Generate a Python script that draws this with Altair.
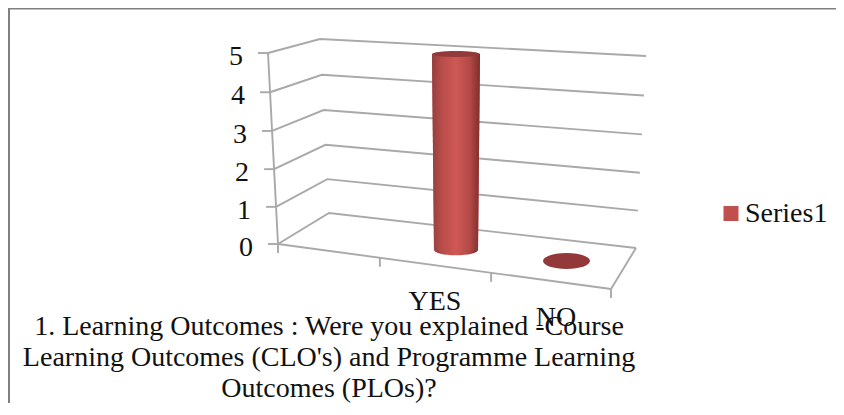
import altair as alt
import pandas as pd

# ---- chart content
categories = ["YES", "NO"]
series1 = [5, 0]
series_name = "Series1"
value_ticks = [0, 1, 2, 3, 4, 5]
title_lines = [
    "1. Learning Outcomes : Were you explained -Course",
    "Learning Outcomes (CLO's) and Programme Learning",
    "Outcomes (PLOs)?",
]

# ---- the 3-D projection of the reference (page pixels)
W, H = 828, 395
FONT = "Liberation Serif"
FS = 28
wall_left = ((278, 244), (268, 53))
wall_back = ((329, 213), (320, 39))
wall_right = ((636, 248), (646, 56))
floor_front = ((278, 244), (611, 289))
floor_ticks = [0, 0.306, 0.64, 1]
base_of = {"YES": (456, 250), "NO": (566, 261)}
UNIT = 39.2
MAXV = max(value_ticks)


def lift(edge, v):
    t = v / MAXV
    t = t / (1 + 0.035 * (1 - t))
    (x0, y0), (x1, y1) = edge
    return x0 + (x1 - x0) * t, y0 + (y1 - y0) * t


def ellipse(ratio):
    return f"M-1,0A1,{ratio} 0 1,1 1,0A1,{ratio} 0 1,1 -1,0Z"


xs = alt.Scale(domain=[8, 8 + W], range=[0, W], nice=False, zero=False)
ys = alt.Scale(domain=[8, 8 + H], range=[0, H], nice=False, zero=False)
X = alt.X("x:Q", scale=xs, axis=None)
Y = alt.Y("y:Q", scale=ys, axis=None)
GRID = "#a9a9a9"

# gridlines and frame lines
rows = []
for v in value_ticks:
    for i, e in enumerate((wall_left, wall_back, wall_right)):
        px, py = lift(e, v)
        rows.append(dict(k=f"g{v}", o=i, x=px, y=py))
    px, py = lift(wall_left, v)
    rows += [dict(k=f"t{v}", o=0, x=px - 10, y=py), dict(k=f"t{v}", o=1, x=px, y=py)]
for v in value_ticks:
    px, py = lift(wall_left, v)
    rows.append(dict(k="axis", o=v, x=px, y=py))
f0, f1 = floor_front
rows += [dict(k="front", o=0, x=f0[0], y=f0[1]), dict(k="front", o=1, x=f1[0], y=f1[1])]
rows += [dict(k="side", o=0, x=f1[0], y=f1[1]), dict(k="side", o=1, x=wall_right[0][0], y=wall_right[0][1])]
for i, t in enumerate(floor_ticks):
    px = f0[0] + (f1[0] - f0[0]) * t
    py = f0[1] + (f1[1] - f0[1]) * t
    rows += [dict(k=f"c{i}", o=0, x=px, y=py), dict(k=f"c{i}", o=1, x=px, y=py + 9)]
lines = alt.Chart(pd.DataFrame(rows)).mark_line(color=GRID, strokeWidth=1.9, interpolate="linear").encode(
    x=X, y=Y, detail="k:N", order="o:Q"
)

# frame (top and left edges are all that the crop shows)
frame = alt.Chart(pd.DataFrame([
    dict(o=0, x=9, y=8 + H), dict(o=1, x=9, y=8.5), dict(o=2, x=8 + W, y=8.5)
])).mark_line(color="#808080", strokeWidth=2).encode(x=X, y=Y, order="o:Q")

# cylinder bodies
body_rows, end_rows = [], []
for c, v in zip(categories, series1):
    bx, by = base_of[c]
    ty = by - v * UNIT
    bhw, thw = 22, 22 + v * 0.4
    if v > 0:
        body_rows += [
            dict(series=series_name, c=c, x=bx - bhw, x2=bx + bhw, y=by),
            dict(series=series_name, c=c, x=bx - thw, x2=bx + thw, y=ty),
        ]
        end_rows.append(dict(x=bx, y=by, shape=ellipse(0.24), size=(2 * bhw) ** 2, part="base"))
        end_rows.append(dict(x=bx, y=ty, shape=ellipse(0.13), size=(2 * thw) ** 2, part="top"))
    else:
        end_rows.append(dict(x=bx + 0.5, y=by, shape=ellipse(0.34), size=(2 * 23.5) ** 2, part="top"))

shade = alt.Gradient(
    gradient="linear", x1=0, x2=1, y1=0, y2=0,
    stops=[
        alt.GradientStop(color="#93403e", offset=0),
        alt.GradientStop(color="#b84c49", offset=0.2),
        alt.GradientStop(color="#cf5855", offset=0.5),
        alt.GradientStop(color="#b44a47", offset=0.78),
        alt.GradientStop(color="#7f2e2c", offset=1),
    ],
)
bodies = pd.DataFrame(body_rows)
ends = pd.DataFrame(end_rows)
body_x2 = alt.X2("x2:Q")
body_key = alt.Chart(bodies).mark_area(orient="horizontal").encode(
    x=X, x2=body_x2, y=Y,
    color=alt.Color(
        "series:N",
        scale=alt.Scale(domain=[series_name], range=["#C0504D"]),
        legend=alt.Legend(
            orient="none", legendX=709, legendY=191.5, title=None, symbolType="square",
            symbolSize=225, symbolStrokeWidth=0, symbolOpacity=1, labelFont=FONT,
            labelFontSize=FS, labelColor="#111111", labelOffset=0, rowPadding=0,
            padding=0, offset=0,
        ),
    ),
)
body_shade = alt.Chart(bodies).mark_area(orient="horizontal", fill=shade).encode(x=X, x2=body_x2, y=Y)
SHAPE = alt.Shape("shape:N", scale=None, legend=None)
SIZE = alt.Size("size:Q", scale=None, legend=None)
base_end = alt.Chart(ends[ends.part == "base"]).mark_point(filled=True, fill=shade, opacity=1, strokeWidth=0).encode(
    x=X, y=Y, shape=SHAPE, size=SIZE)
top_end = alt.Chart(ends[ends.part == "top"]).mark_point(filled=True, fill="#93393a", opacity=1, strokeWidth=0).encode(
    x=X, y=Y, shape=SHAPE, size=SIZE)


def text(df, **kw):
    return alt.Chart(df).mark_text(font=FONT, fontSize=FS, color="#111111", **kw).encode(
        x=X, y=Y, text="t:N")


val_labels = pd.DataFrame([
    dict(t=str(v), x=lift(wall_left, v)[0] - 25, y=lift(wall_left, v)[1] + 4) for v in value_ticks
])
cat_pos = {"YES": (435, 302), "NO": (556, 318)}
cat_labels = pd.DataFrame([dict(t=c, x=cat_pos[c][0], y=cat_pos[c][1]) for c in categories])
title_rows = pd.DataFrame([dict(t=s, x=329, y=327 + 31 * i) for i, s in enumerate(title_lines)])

chart = alt.layer(
    frame, lines, base_end, body_key, body_shade, top_end,
    text(val_labels, align="right", baseline="middle"),
    text(cat_labels, align="center", baseline="middle"),
    text(title_rows, align="center", baseline="middle"),
).properties(
    width=W, height=H, padding=0, autosize=alt.AutoSizeParams(type="none"), background="white"
).configure_view(stroke=None)

chart.save("out.html", embed_options={"renderer": "svg", "actions": False})
